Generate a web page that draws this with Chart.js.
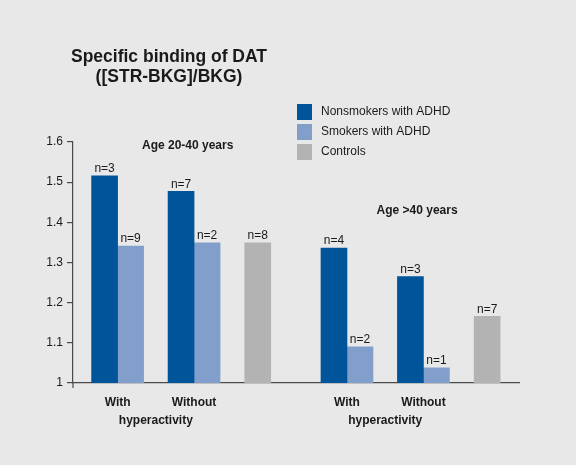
<!DOCTYPE html>
<html>
<head>
<meta charset="utf-8">
<script src="https://cdn.jsdelivr.net/npm/chart.js@4"></script>
<style>
  html, body { margin: 0; padding: 0; background: #e8e8e8; }
  #wrap { width: 576px; height: 465px; }
</style>
</head>
<body>
<div id="wrap"><canvas id="graph--dat"></canvas></div>
<script>
// values
const categories = ["With", "Without", "Controls", "With", "Without", "Controls"];
const subLabel = "hyperactivity";
const ageLabels = ["Age 20-40 years", "Age >40 years"];
const seriesNames = ["Nonsmokers with ADHD", "Smokers with ADHD", "Controls"];
const nonsmokers = [1.516, 1.477, null, 1.336, 1.265, null];
const smokers = [1.341, 1.349, null, 1.090, 1.038, null];
const controls = [null, null, 1.349, null, null, 1.166];
const nNonsmokers = ["n=3", "n=7", null, "n=4", "n=3", null];
const nSmokers = ["n=9", "n=2", null, "n=2", "n=1", null];
const nControls = [null, null, "n=8", null, null, "n=7"];
const yTicks = [1, 1.1, 1.2, 1.3, 1.4, 1.5, 1.6];
const titleLines = ["Specific binding of DAT", "([STR-BKG]/BKG)"];

// layout: the x axis is a grid of narrow slots, groups sit on some of them
const SLOT_COUNT = 35;
const slotOf = [3, 9, 14, 21, 27, 32];
const subSlots = [6, 24];
const ageGroupSlots = [[3, 14], [21, 32]];
const ageCaptionAt = [1.59, 1.43];

const COLORS = ["#00549a", "#819fca", "#b3b3b3"];
const FONT = "'Liberation Sans', Arial, sans-serif";
const TEXT = "#1a1a1a";

const labels = new Array(SLOT_COUNT).fill("");
slotOf.forEach((s, i) => { labels[s] = categories[i]; });
subSlots.forEach(s => { labels[s] = subLabel; });

function spread(values) {
  const out = new Array(SLOT_COUNT).fill(null);
  slotOf.forEach((s, i) => { out[s] = values[i]; });
  return out;
}
const nLabels = [spread(nNonsmokers), spread(nSmokers), spread(nControls)];

const extras = {
  id: "extras",
  afterDraw(chart) {
    const ctx = chart.ctx;
    const x = chart.scales.x, y = chart.scales.y;
    ctx.save();

    // title
    ctx.fillStyle = TEXT;
    ctx.textAlign = "center";
    ctx.textBaseline = "alphabetic";
    ctx.font = "bold 17.5px " + FONT;
    ctx.fillText(titleLines[0], 169, 62);
    ctx.fillText(titleLines[1], 169, 82);

    // legend
    ctx.font = "12px " + FONT;
    ctx.textAlign = "left";
    ctx.textBaseline = "middle";
    chart.data.datasets.forEach((ds, i) => {
      const top = 104 + i * 20;
      ctx.fillStyle = ds.backgroundColor;
      ctx.fillRect(297, top, 15, 16);
      ctx.fillStyle = TEXT;
      ctx.fillText(ds.label, 321, top + 8);
    });

    // n= labels above bars
    ctx.textAlign = "center";
    ctx.textBaseline = "bottom";
    chart.data.datasets.forEach((ds, i) => {
      chart.getDatasetMeta(i).data.forEach((bar, j) => {
        if (nLabels[i][j] == null) return;
        ctx.fillText(nLabels[i][j], bar.x, bar.y - 1);
      });
    });

    // age group captions
    ctx.font = "bold 12px " + FONT;
    ctx.textBaseline = "middle";
    ageGroupSlots.forEach((g, i) => {
      const cx = (x.getPixelForValue(g[0]) + x.getPixelForValue(g[1])) / 2;
      ctx.fillText(ageLabels[i], cx, y.getPixelForValue(ageCaptionAt[i]));
    });

    // y axis runs a little past the x axis
    ctx.strokeStyle = "#4a4a4a";
    ctx.lineWidth = 1.2;
    ctx.beginPath();
    ctx.moveTo(x.left, y.bottom);
    ctx.lineTo(x.left, y.bottom + 5);
    ctx.stroke();
    ctx.restore();
  }
};

new Chart(document.getElementById("graph--dat"), {
  type: "bar",
  data: {
    labels: labels,
    datasets: [
      { label: seriesNames[0], data: spread(nonsmokers), backgroundColor: COLORS[0] },
      { label: seriesNames[1], data: spread(smokers), backgroundColor: COLORS[1] },
      { label: seriesNames[2], data: spread(controls), backgroundColor: COLORS[2] }
    ]
  },
  options: {
    responsive: true,
    maintainAspectRatio: false,
    animation: false,
    layout: { padding: { left: 0, top: 142, right: 57, bottom: 32 } },
    datasets: { bar: { barThickness: 26, skipNull: true, borderWidth: 0 } },
    plugins: {
      legend: { display: false },
      title: { display: false },
      tooltip: { enabled: false }
    },
    scales: {
      x: {
        type: "category",
        offset: true,
        grid: { display: false },
        border: { display: true, color: "#4a4a4a", width: 1.2 },
        ticks: {
          autoSkip: false,
          maxRotation: 0,
          padding: 3,
          color: TEXT,
          font: { family: FONT, size: 12, weight: "bold", lineHeight: 1.5 },
          callback: function (value) {
            const l = this.getLabelForValue(value);
            if (l === "With" || l === "Without") return [l, ""];
            if (l === subLabel) return ["", l];
            return "";
          }
        },
        afterFit: s => { s.height = 50; }
      },
      y: {
        min: 1,
        max: 1.6,
        grid: { drawOnChartArea: false, drawTicks: true, tickLength: 6, color: "#4a4a4a", lineWidth: 1.2 },
        border: { display: true, color: "#4a4a4a", width: 1.2 },
        ticks: {
          padding: 4,
          color: TEXT,
          font: { family: FONT, size: 12 },
          callback: v => String(+v.toFixed(1))
        },
        afterBuildTicks: s => { s.ticks = yTicks.map(v => ({ value: v })); },
        afterFit: s => { s.width = 73; }
      }
    }
  },
  plugins: [extras]
});
</script>
</body>
</html>
